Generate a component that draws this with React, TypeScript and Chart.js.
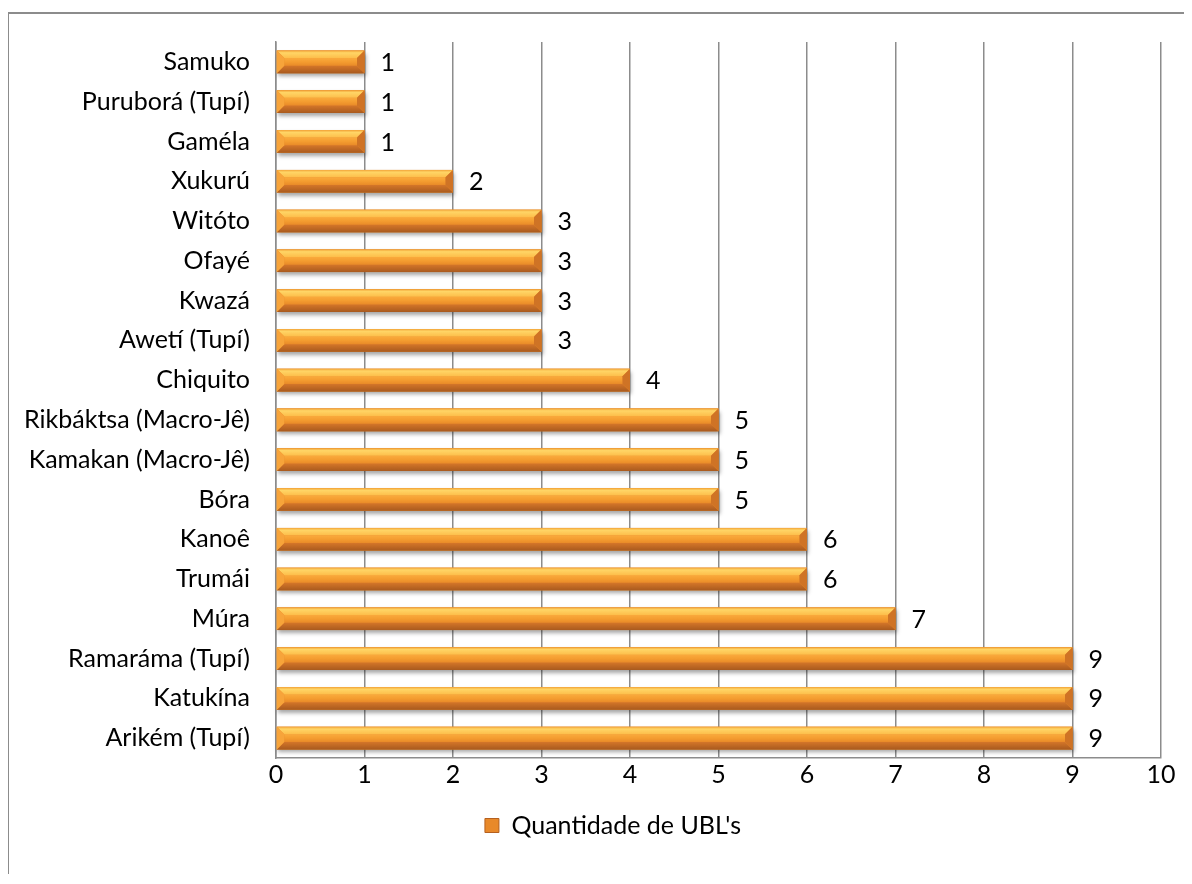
import React, { useEffect, useRef } from "react";
import { Chart, registerables } from "chart.js";
Chart.register(...registerables);

const categories = [
  "Samuko",
  "Puruborá (Tupí)",
  "Gaméla",
  "Xukurú",
  "Witóto",
  "Ofayé",
  "Kwazá",
  "Awetí (Tupí)",
  "Chiquito",
  "Rikbáktsa (Macro-Jê)",
  "Kamakan (Macro-Jê)",
  "Bóra",
  "Kanoê",
  "Trumái",
  "Múra",
  "Ramaráma (Tupí)",
  "Katukína",
  "Arikém (Tupí)",
];
const values = [1, 1, 1, 2, 3, 3, 3, 3, 4, 5, 5, 5, 6, 6, 7, 9, 9, 9];
const seriesName = "Quantidade de UBL's";
const axisMin = 0;
const axisMax = 10;
const axisStep = 1;

const FONT = "Lato";
const FONT_SIZE = 25;
const GRID = "#8c8c8c";
const LEGEND_SHIFT = 28;

const legendShiftPlugin = {
  id: "legendShift",
  afterLayout(chart: any) {
    if (chart.legend) {
      chart.legend.left += LEGEND_SHIFT;
      chart.legend.right += LEGEND_SHIFT;
    }
  },
};

const bevelPlugin = {
  id: "bevelBars",
  afterDatasetsDraw(chart: any) {
    const ctx = chart.ctx as CanvasRenderingContext2D;
    const meta = chart.getDatasetMeta(0);
    meta.data.forEach((el: any) => {
      const { x, y, base, height } = el.getProps(["x", "y", "base", "height"], true);
      const l = Math.min(x, base);
      const r = Math.max(x, base);
      const t = y - height / 2;
      const b = y + height / 2;
      const bv = Math.min(height * 0.33, (r - l) / 2);
      ctx.save();
      ctx.shadowColor = "rgba(0,0,0,0.35)";
      ctx.shadowBlur = 4;
      ctx.shadowOffsetY = 3;
      ctx.shadowOffsetX = 1;
      ctx.fillStyle = "#E68A2C";
      ctx.fillRect(l, t, r - l, b - t);
      ctx.restore();

      ctx.save();
      const gc = ctx.createLinearGradient(0, t + bv, 0, b - bv);
      gc.addColorStop(0, "#FAAA3C");
      gc.addColorStop(0.5, "#F49D30");
      gc.addColorStop(1, "#E98A28");
      ctx.fillStyle = gc;
      ctx.fillRect(l + bv, t + bv, r - l - 2 * bv, b - t - 2 * bv);
      const gt = ctx.createLinearGradient(0, t, 0, t + bv);
      gt.addColorStop(0, "#F2A236");
      gt.addColorStop(0.3, "#FFD566");
      gt.addColorStop(1, "#FDBE4A");
      ctx.fillStyle = gt;
      ctx.beginPath();
      ctx.moveTo(l, t);
      ctx.lineTo(r, t);
      ctx.lineTo(r - bv, t + bv);
      ctx.lineTo(l + bv, t + bv);
      ctx.closePath();
      ctx.fill();
      const gb = ctx.createLinearGradient(0, b - bv, 0, b);
      gb.addColorStop(0, "#D47629");
      gb.addColorStop(1, "#A95A1E");
      ctx.fillStyle = gb;
      ctx.beginPath();
      ctx.moveTo(l, b);
      ctx.lineTo(r, b);
      ctx.lineTo(r - bv, b - bv);
      ctx.lineTo(l + bv, b - bv);
      ctx.closePath();
      ctx.fill();
      ctx.fillStyle = "#F7A43A";
      ctx.beginPath();
      ctx.moveTo(l, t);
      ctx.lineTo(l + bv, t + bv);
      ctx.lineTo(l + bv, b - bv);
      ctx.lineTo(l, b);
      ctx.closePath();
      ctx.fill();
      ctx.fillStyle = "#CF7325";
      ctx.beginPath();
      ctx.moveTo(r, t);
      ctx.lineTo(r - bv, t + bv);
      ctx.lineTo(r - bv, b - bv);
      ctx.lineTo(r, b);
      ctx.closePath();
      ctx.fill();
      ctx.restore();
    });

    ctx.save();
    ctx.font = `${FONT_SIZE}px ${FONT}`;
    ctx.fillStyle = "#000";
    ctx.textAlign = "left";
    ctx.textBaseline = "middle";
    meta.data.forEach((el: any, i: number) => {
      const { x, y } = el.getProps(["x", "y"], true);
      ctx.fillText(String(values[i]), x + 16, y + 1);
    });
    ctx.restore();
  },
};

export default function App() {
  const ref = useRef<HTMLCanvasElement | null>(null);
  useEffect(() => {
    if (!ref.current) return;
    Chart.defaults.font.family = FONT;
    const chart = new Chart(ref.current, {
      type: "bar",
      data: {
        labels: categories,
        datasets: [
          {
            label: seriesName,
            data: values,
            backgroundColor: "#E68A2C",
            borderWidth: 0,
            categoryPercentage: 1,
            barPercentage: 0.57,
          },
        ],
      },
      options: {
        indexAxis: "y",
        responsive: false,
        animation: false,
        devicePixelRatio: 1,
        layout: { padding: { top: 28, right: 23, left: 0, bottom: 26 } },
        scales: {
          x: {
            min: axisMin,
            max: axisMax,
            ticks: {
              stepSize: axisStep,
              color: "#000",
              font: { size: FONT_SIZE, family: FONT },
              padding: 2,
            },
            grid: { color: GRID, lineWidth: 1.5, drawTicks: false },
            border: { display: true, color: GRID, width: 1.5 },
            afterFit: (s: any) => {
              s.height = 45;
            },
          },
          y: {
            ticks: {
              color: "#000",
              font: { size: FONT_SIZE, family: FONT },
              padding: 26,
            },
            grid: { display: false, drawTicks: false },
            border: { display: true, color: GRID, width: 1.5 },
            afterFit: (s: any) => {
              s.width = 267;
              s.paddingTop = 0;
              s.paddingBottom = 0;
            },
          },
        },
        plugins: {
          legend: {
            display: true,
            position: "bottom",
            labels: {
              color: "#000",
              font: { size: FONT_SIZE, family: FONT },
              boxWidth: 14,
              boxHeight: 14,
              padding: 10,
              generateLabels: () => [
                {
                  text: seriesName,
                  fillStyle: "#E8892A",
                  strokeStyle: "#B5601F",
                  lineWidth: 1,
                  hidden: false,
                  datasetIndex: 0,
                } as any,
              ],
            },
          },
          tooltip: { enabled: false },
        },
      },
      plugins: [bevelPlugin, legendShiftPlugin],
    });
    return () => chart.destroy();
  }, []);

  return (
    <div style={{ paddingTop: 4 }}>
      <div
        style={{
          marginLeft: -1,
          borderLeft: "2px solid #8c8c8c",
          borderTop: "2px solid #8c8c8c",
          width: 1175,
          height: 860,
          overflow: "hidden",
        }}
      >
        <canvas ref={ref} width={1175} height={860} style={{ display: "block" }} />
      </div>
    </div>
  );
}
